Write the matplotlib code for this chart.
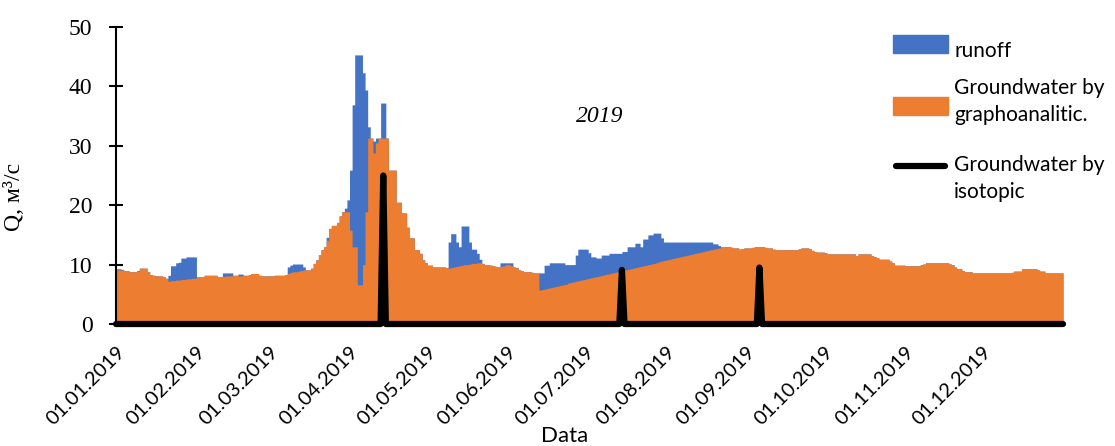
import numpy as np
import matplotlib.pyplot as plt
from matplotlib.patches import Rectangle
from matplotlib.lines import Line2D

# daily discharge 2019, m3/s
month_days = [31, 28, 31, 30, 31, 30, 31, 31, 30, 31, 30, 31]
month_labels = ['01.01.2019', '01.02.2019', '01.03.2019', '01.04.2019', '01.05.2019', '01.06.2019',
                '01.07.2019', '01.08.2019', '01.09.2019', '01.10.2019', '01.11.2019', '01.12.2019']

runoff = [
    # jan
    9.3, 9.3, 9.2, 9.0, 9.0, 8.8, 8.8, 8.8, 9.0, 9.4, 9.4, 9.4, 8.8, 8.3, 8.2, 8.1, 8.1, 8.1, 8.0, 7.7,
    8.2, 9.8, 9.8, 10.3, 10.4, 11.1, 11.1, 11.3, 11.3, 11.3, 11.3,
    # feb
    8.0, 8.0, 8.0, 8.2, 8.2, 8.2, 8.2, 8.2, 8.0, 8.0, 8.6, 8.6, 8.6, 8.6, 8.2, 8.2, 8.4, 8.4, 8.2, 8.2,
    8.3, 8.5, 8.5, 8.5, 8.2, 8.1, 8.1, 8.1,
    # mar
    8.1, 8.1, 8.2, 8.2, 8.2, 8.2, 8.3, 9.6, 9.9, 10.1, 10.1, 10.1, 10.1, 9.6, 9.1, 9.1, 9.4, 10.2, 10.8, 11.7,
    12.5, 13.0, 14.6, 16.1, 16.6, 16.6, 17.1, 18.2, 18.9, 19.5, 20.9,
    # apr
    25.9, 36.9, 45.3, 45.3, 45.3, 42.3, 39.4, 33.2, 31.3, 30.8, 31.3, 31.3, 37.2, 37.2, 31.3, 25.9, 25.9, 25.9, 20.5, 20.5,
    18.7, 18.7, 16.3, 14.5, 14.5, 12.5, 12.5, 11.9, 10.8, 10.3,
    # may
    9.9, 9.9, 9.6, 9.6, 9.6, 9.6, 9.6, 9.5, 13.8, 15.2, 15.2, 13.8, 13.0, 16.5, 16.5, 16.5, 13.8, 12.6, 12.6, 11.9,
    10.9, 10.2, 10.0, 10.0, 9.9, 9.8, 9.7, 9.6, 10.3, 10.3, 10.3,
    # jun
    10.3, 10.3, 9.6, 9.5, 9.1, 9.0, 8.8, 8.8, 8.8, 8.7, 8.6, 8.6, 8.6, 8.6, 9.9, 9.9, 10.3, 10.3, 10.3, 10.3,
    10.3, 10.3, 10.0, 10.0, 10.0, 10.0, 11.6, 12.6, 12.6, 12.6,
    # jul
    12.6, 12.0, 11.3, 11.3, 11.1, 11.1, 11.6, 11.6, 11.6, 11.9, 11.9, 11.9, 11.9, 11.9, 12.2, 12.2, 13.0, 13.0, 13.0, 13.6,
    13.6, 13.0, 14.3, 14.3, 15.0, 15.0, 15.3, 15.3, 15.3, 14.5, 13.8,
    # aug
    13.8, 13.8, 13.8, 13.8, 13.8, 13.8, 13.8, 13.8, 13.8, 13.8, 13.8, 13.8, 13.8, 13.8, 13.8, 13.8, 13.8, 13.8, 13.5, 13.5,
    13.2, 13.0, 13.0, 13.0, 13.0, 12.9, 12.8, 12.8, 12.6, 12.7, 12.8,
    # sep
    12.8, 12.8, 12.9, 13.0, 13.0, 13.0, 13.0, 12.9, 12.8, 12.8, 12.6, 12.5, 12.5, 12.5, 12.5, 12.5, 12.5, 12.5, 12.5, 12.5,
    12.7, 12.8, 12.8, 12.8, 12.7, 12.4, 12.2, 12.1, 12.1, 12.1,
    # oct
    12.0, 11.8, 11.8, 11.8, 11.8, 11.8, 11.8, 11.8, 11.8, 11.8, 11.8, 11.8, 11.5, 11.8, 11.8, 11.8, 11.8, 11.8, 11.5, 11.3,
    11.2, 10.9, 10.9, 10.9, 10.9, 10.6, 10.3, 9.9, 9.9, 9.9, 9.9,
    # nov
    9.8, 9.8, 9.8, 9.8, 9.8, 9.8, 10.0, 10.1, 10.3, 10.3, 10.3, 10.3, 10.3, 10.3, 10.3, 10.3, 10.3, 10.1, 10.0, 9.6,
    9.3, 9.3, 9.0, 8.8, 8.8, 8.8, 8.6, 8.6, 8.6, 8.6,
    # dec
    8.6, 8.6, 8.6, 8.6, 8.6, 8.6, 8.6, 8.6, 8.6, 8.6, 8.6, 8.7, 8.9, 8.9, 8.9, 9.3, 9.3, 9.3, 9.3, 9.3,
    9.3, 9.1, 8.9, 8.9, 8.6, 8.6, 8.6, 8.6, 8.6, 8.6, 8.6,
]

groundwater = [
    # jan
    9.1, 9.1, 9.1, 9.0, 9.0, 8.8, 8.8, 8.8, 8.9, 9.4, 9.4, 9.4, 8.8, 8.3, 8.2, 8.1, 8.1, 8.1, 8.0, 7.7,
    7.2, 7.3, 7.3, 7.4, 7.4, 7.5, 7.5, 7.6, 7.6, 7.7, 7.7,
    # feb
    8.0, 8.0, 8.0, 8.2, 8.2, 8.2, 8.2, 8.2, 8.0, 8.0, 8.0, 8.1, 8.1, 8.1, 8.2, 8.2, 8.1, 8.1, 8.2, 8.2,
    8.3, 8.5, 8.5, 8.5, 8.2, 8.1, 8.1, 8.1,
    # mar
    8.1, 8.1, 8.2, 8.2, 8.2, 8.2, 8.3, 8.5, 8.7, 8.8, 8.8, 8.9, 9.0, 9.1, 9.1, 9.1, 9.4, 10.2, 10.8, 11.7,
    12.5, 13.0, 14.1, 16.1, 16.6, 16.6, 17.1, 18.2, 18.9, 18.9, 18.9,
    # apr
    15.8, 13.0, 13.0, 6.6, 6.6, 10.0, 18.9, 31.3, 31.3, 28.8, 30.5, 31.3, 31.3, 31.3, 31.3, 25.9, 25.9, 25.9, 20.5, 20.5,
    18.7, 18.7, 16.3, 14.5, 14.5, 12.5, 12.5, 11.9, 10.8, 10.3,
    # may
    9.9, 9.9, 9.6, 9.6, 9.6, 9.6, 9.6, 9.5, 9.4, 9.5, 9.6, 9.7, 9.8, 9.9, 10.0, 10.0, 10.1, 10.2, 10.2, 10.3,
    10.3, 10.2, 10.0, 10.0, 9.9, 9.8, 9.7, 9.6, 9.7, 9.8, 10.0,
    # jun
    10.0, 9.8, 9.6, 9.5, 9.1, 9.0, 8.8, 8.8, 8.8, 8.7, 8.6, 8.6, 5.7, 5.8, 5.9, 6.0, 6.1, 6.2, 6.3, 6.4,
    6.5, 6.6, 6.7, 6.9, 7.0, 7.1, 7.2, 7.3, 7.4, 7.5,
    # jul
    7.6, 7.7, 7.8, 7.9, 8.0, 8.1, 8.2, 8.3, 8.4, 8.5, 8.6, 8.7, 8.8, 8.9, 9.0, 9.1, 9.2, 9.3, 9.4, 9.5,
    9.6, 9.7, 9.8, 9.9, 10.0, 10.1, 10.2, 10.3, 10.5, 10.6, 10.7,
    # aug
    10.8, 10.9, 11.0, 11.1, 11.2, 11.3, 11.4, 11.5, 11.6, 11.7, 11.8, 11.9, 12.0, 12.1, 12.2, 12.3, 12.4, 12.5, 12.6, 12.7,
    12.8, 13.0, 13.0, 13.0, 13.0, 12.9, 12.8, 12.8, 12.6, 12.7, 12.8,
    # sep
    12.8, 12.8, 12.9, 13.0, 13.0, 13.0, 13.0, 12.9, 12.8, 12.8, 12.6, 12.5, 12.5, 12.5, 12.5, 12.5, 12.5, 12.5, 12.5, 12.5,
    12.7, 12.8, 12.8, 12.8, 12.7, 12.4, 12.2, 12.1, 12.1, 12.1,
    # oct
    12.0, 11.8, 11.8, 11.8, 11.8, 11.8, 11.8, 11.8, 11.8, 11.8, 11.8, 11.8, 11.5, 11.8, 11.8, 11.8, 11.8, 11.8, 11.5, 11.3,
    11.2, 10.9, 10.9, 10.9, 10.9, 10.6, 10.3, 9.9, 9.9, 9.9, 9.9,
    # nov
    9.8, 9.8, 9.8, 9.8, 9.8, 9.8, 10.0, 10.1, 10.3, 10.3, 10.3, 10.3, 10.3, 10.3, 10.3, 10.3, 10.3, 10.1, 10.0, 9.6,
    9.3, 9.3, 9.0, 8.8, 8.8, 8.8, 8.6, 8.6, 8.6, 8.6,
    # dec
    8.6, 8.6, 8.6, 8.6, 8.6, 8.6, 8.6, 8.6, 8.6, 8.6, 8.6, 8.7, 8.9, 8.9, 8.9, 9.3, 9.3, 9.3, 9.3, 9.3,
    9.3, 9.1, 8.9, 8.9, 8.6, 8.6, 8.6, 8.6, 8.6, 8.6, 8.6,
]

# isotopic estimate: zero except on sampling days
iso_days = [103, 195, 248]
iso_values = [25.0, 9.1, 9.5]

BLUE = '#4472C4'
ORANGE = '#ED7D31'
W, H = 1115, 446

n = sum(month_days)
days = np.arange(n + 1)
run = np.append(runoff, runoff[-1])
gw = np.append(groundwater, groundwater[-1])
iso = np.zeros(n + 1)
iso[iso_days] = iso_values
month_starts = np.cumsum([0] + month_days[:-1])

fig = plt.figure(figsize=(W / 100, H / 100), dpi=100)
ax = fig.add_axes([116 / W, 1 - 324 / H, (1063 - 116) / W, (324 - 27) / H])

ax.fill_between(days, 0, run, step='post', color=BLUE, linewidth=0)
ax.fill_between(days, 0, gw, step='post', color=ORANGE, linewidth=0)
ax.plot(days, iso, color='black', lw=4.5, solid_capstyle='round', solid_joinstyle='round', clip_on=False)

ax.set_xlim(0, n)
ax.set_ylim(0, 50)
ax.set_yticks(range(0, 51, 10))
ax.set_xticks(month_starts)
ax.set_xticklabels(month_labels, rotation=45, ha='right', va='top', rotation_mode='anchor',
                   fontfamily='Lato', fontsize=14.5)
for lab in ax.get_yticklabels():
    lab.set_fontfamily('Liberation Serif')
    lab.set_fontsize(17)
ax.tick_params(axis='x', length=0, pad=14)
ax.tick_params(axis='y', direction='inout', length=10, width=1.5, pad=12)

for s in ['top', 'right', 'bottom']:
    ax.spines[s].set_visible(False)
ax.spines['left'].set_linewidth(1.5)

ax.set_ylabel('Q, м³/с', fontfamily='Liberation Serif', fontsize=17)
ax.yaxis.set_label_coords((25 - 116) / 947, (324 - 197) / 297)
fig.text(565 / W, 1 - 436 / H, 'Data', ha='center', va='center', fontfamily='Lato', fontsize=16)
ax.text(0.511, 0.697, '2019', transform=ax.transAxes, ha='center', va='center',
        fontfamily='Liberation Serif', fontstyle='italic', fontsize=17)

# legend drawn by hand to keep the excel layout
def fx(px):
    return px / W

def fy(py):
    return 1 - py / H

fig.add_artist(Rectangle((fx(893), fy(53)), fx(55), 18 / H, color=BLUE, transform=fig.transFigure))
fig.add_artist(Rectangle((fx(893), fy(115)), fx(55), 18 / H, color=ORANGE, transform=fig.transFigure))
fig.add_artist(Line2D([fx(896), fx(945)], [fy(166), fy(166)], color='black', lw=4.5,
                      solid_capstyle='round', transform=fig.transFigure))
leg_font = dict(fontfamily='Lato', fontsize=15, ha='left', va='baseline')
fig.text(fx(955), fy(57), 'runoff', **leg_font)
fig.text(fx(954), fy(94), 'Groundwater by', **leg_font)
fig.text(fx(954), fy(121), 'graphoanalitic.', **leg_font)
fig.text(fx(954), fy(171), 'Groundwater by', **leg_font)
fig.text(fx(954), fy(198), 'isotopic', **leg_font)

fig.savefig('out.png', dpi=100)
